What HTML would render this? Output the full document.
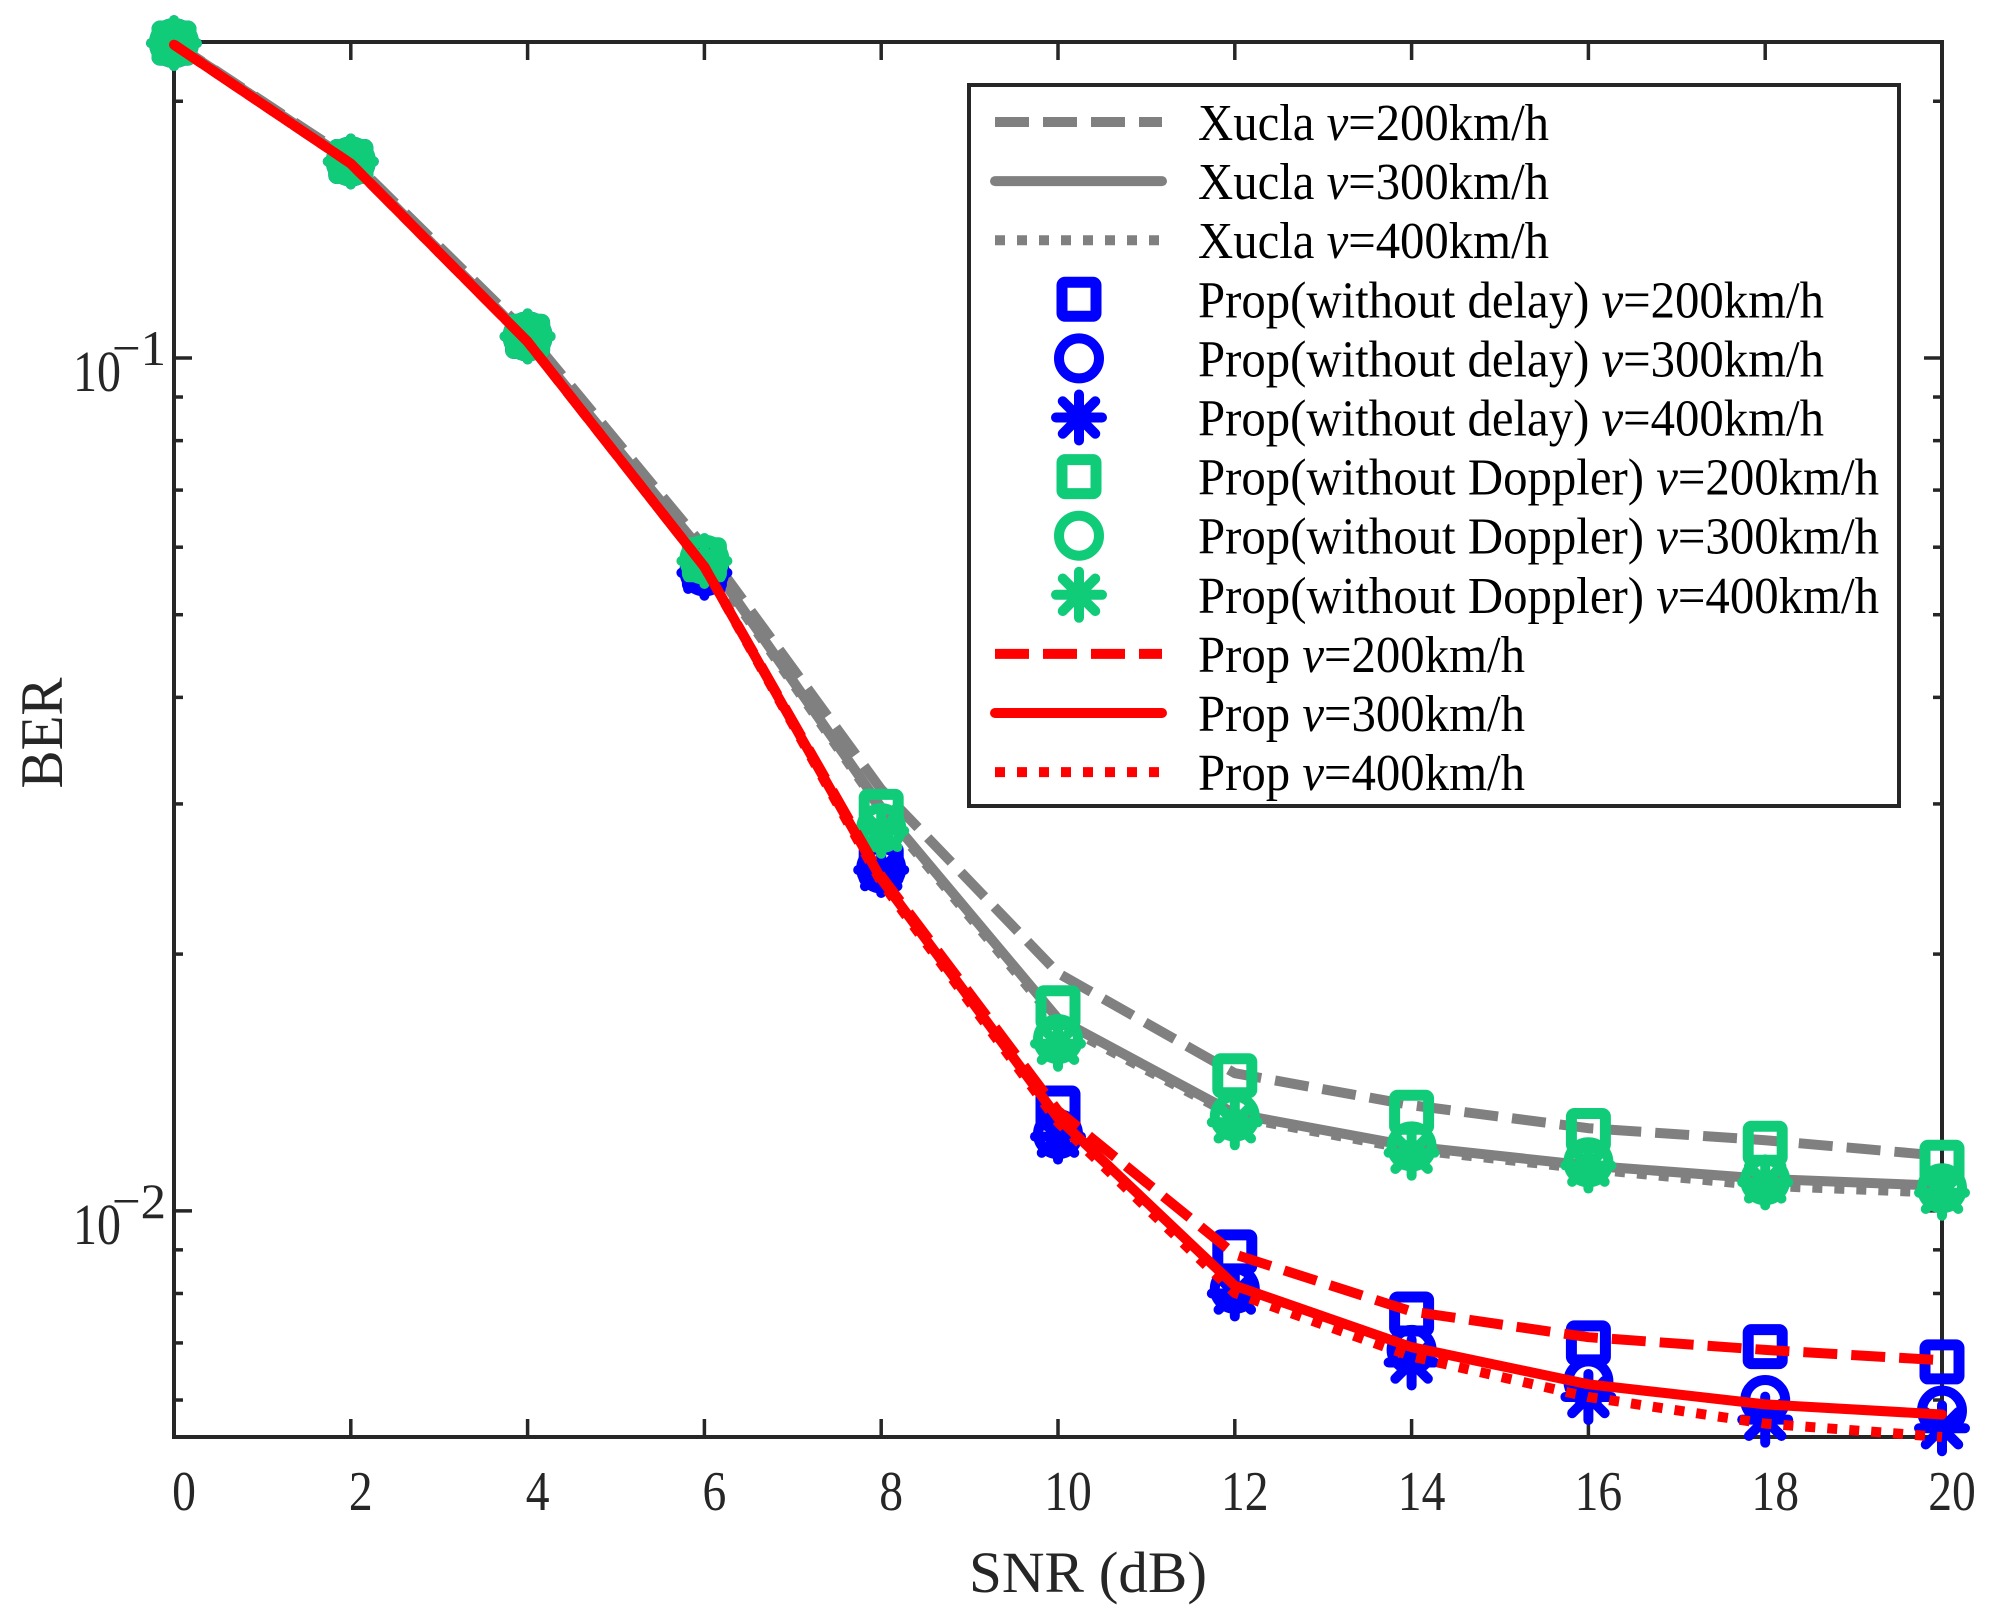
<!DOCTYPE html>
<html><head><meta charset="utf-8"><style>
html,body{margin:0;padding:0;background:#fff;}
svg{display:block;font-family:"Liberation Serif",serif;}
</style></head><body>
<svg id="chart" width="1996" height="1610" viewBox="0 0 1996 1610">
<g id="grid-layer"></g>
<g id="series-layer"></g>
<g id="legend-layer"></g>
</svg>
<script>
const snr = [0,2,4,6,8,10,12,14,16,18,20];
const xTicks = [0,2,4,6,8,10,12,14,16,18,20];
const xucla200 = [0.234,0.171,0.1068,0.060,0.0312,0.019,0.0145,0.0133,0.0125,0.0121,0.0116];
const xucla300 = [0.234,0.170,0.105,0.0589,0.0297,0.0168,0.0130,0.0119,0.0113,0.0109,0.0107];
const xucla400 = [0.234,0.170,0.105,0.0585,0.0295,0.0166,0.0129,0.0118,0.0112,0.0107,0.0105];
const prop200 = [0.233,0.169,0.1045,0.0569,0.0247,0.0131,0.00889,0.00762,0.00711,0.00687,0.00668];
const prop300 = [0.233,0.169,0.1045,0.0569,0.0245,0.01285,0.00817,0.00692,0.00626,0.00593,0.00577];
const prop400 = [0.233,0.169,0.1045,0.0569,0.0243,0.0127,0.00801,0.00675,0.00605,0.00563,0.00543];
const noDelay200 = [0.234,0.170,0.106,0.0564,0.0255,0.0132,0.00895,0.00757,0.0070,0.00693,0.00665];
const noDelay300 = [0.234,0.170,0.106,0.0562,0.0252,0.0123,0.0081,0.00687,0.00631,0.0060,0.00583];
const noDelay400 = [0.234,0.170,0.106,0.0560,0.0251,0.01222,0.0080,0.00664,0.00605,0.00569,0.00556];
const noDop200 = [0.234,0.170,0.106,0.058,0.0294,0.0173,0.0144,0.01305,0.01242,0.0120,0.0114];
const noDop300 = [0.234,0.170,0.106,0.058,0.0281,0.0159,0.0129,0.0119,0.0114,0.01086,0.01063];
const noDop400 = [0.234,0.170,0.106,0.0578,0.0279,0.0157,0.0127,0.0117,0.0113,0.0108,0.0105];
const legendLabels = ["Xucla v=200km/h","Xucla v=300km/h","Xucla v=400km/h",
 "Prop(without delay) v=200km/h","Prop(without delay) v=300km/h","Prop(without delay) v=400km/h",
 "Prop(without Doppler) v=200km/h","Prop(without Doppler) v=300km/h","Prop(without Doppler) v=400km/h",
 "Prop v=200km/h","Prop v=300km/h","Prop v=400km/h"];

const NS="http://www.w3.org/2000/svg";
const L=174,R=1942,T=42,B=1437;
const X0=0,X1=20, LY0=Math.log10(0.00543), LY1=Math.log10(0.2347);
function xs(v){return L+(v-X0)/(X1-X0)*(R-L);}
function ys(v){return B-(Math.log10(v)-LY0)/(LY1-LY0)*(B-T);}
function mk(tag,attrs,parent){const e=document.createElementNS(NS,tag);for(const k in attrs)e.setAttribute(k,attrs[k]);parent.appendChild(e);return e;}
const axisG=document.getElementById('grid-layer');
const serG=document.getElementById('series-layer');
const legG=document.getElementById('legend-layer');
const AX='#262626';

const fr=mk('rect',{x:L,y:T,width:R-L,height:B-T,fill:'none',stroke:AX,'stroke-width':4},axisG);


xTicks.forEach(t=>{
  const x=xs(t);
  const a=mk('line',{x1:x,y1:B,x2:x,y2:B-18,stroke:AX,'stroke-width':3.5},axisG);
  
  
  const b=mk('line',{x1:x,y1:T,x2:x,y2:T+18,stroke:AX,'stroke-width':3.5},axisG);
  
  
  const tx=mk('text',{x:x+10,y:1510,'font-size':56,'text-anchor':'middle',fill:AX,transform:'translate('+(x+10)+',0) scale(0.85,1) translate('+(-(x+10))+',0)'},axisG);
  tx.textContent=String(t);
  
  
});
for(let d=-3;d<=-1;d++){
  for(let m=1;m<=9;m++){
    const v=m*Math.pow(10,d);
    if(v<0.00543||v>0.2347)continue;
    const y=ys(v), len=(m===1)?18:9;
    const a=mk('line',{x1:L,y1:y,x2:L+len,y2:y,stroke:AX,'stroke-width':3.5},axisG);
    
    
    const b=mk('line',{x1:R,y1:y,x2:R-len,y2:y,stroke:AX,'stroke-width':3.5},axisG);
    
    
    if(m===1){
      const tx=mk('text',{x:73,y:y+33,'font-size':58,fill:AX,textLength:48,lengthAdjust:'spacingAndGlyphs'},axisG);
      tx.textContent='10';
      
      
      const sp=mk('text',{x:112,y:y+7,'font-size':50,fill:AX,textLength:54,lengthAdjust:'spacingAndGlyphs'},axisG);
      sp.textContent='\u2212'+(-d);
      
      
    }
  }
}
const xt=mk('text',{x:1088,y:1592,'font-size':58,'text-anchor':'middle',fill:AX,textLength:238,lengthAdjust:'spacingAndGlyphs'},axisG);
xt.textContent='SNR (dB)';


const yt=mk('text',{x:0,y:0,'font-size':60,'text-anchor':'middle',fill:AX,transform:'translate(62,733) rotate(-90)',textLength:111,lengthAdjust:'spacingAndGlyphs'},axisG);
yt.textContent='BER';



const GRAY='#808080',RED='#ff0000',BLUE='#0000ff',GREEN='#10cc78';
const DASH='34 14',DOT='10 12';
function drawLine(vals,color,dash,name){
  const pts=snr.map((s,i)=>xs(s).toFixed(1)+','+ys(vals[i]).toFixed(1)).join(' ');
  const p=mk('polyline',{points:pts,fill:'none',stroke:color,'stroke-width':10,'stroke-dasharray':dash||'none','stroke-linejoin':'round','stroke-linecap':dash?'butt':'round'},serG);
  
  
}
function marker(parent,type,cx,cy,color){
  let e;
  if(type==='sq'){e=mk('rect',{x:cx-17,y:cy-17,width:34,height:34,rx:3,fill:'none',stroke:color,'stroke-width':11},parent);}
  else if(type==='ci'){e=mk('circle',{cx:cx,cy:cy,r:20,fill:'none',stroke:color,'stroke-width':10},parent);}
  else{
    e=mk('g',{},parent);
    for(let k=0;k<4;k++){const a=k*Math.PI/4,dx=23*Math.cos(a),dy=23*Math.sin(a);
      mk('line',{x1:cx-dx,y1:cy-dy,x2:cx+dx,y2:cy+dy,stroke:color,'stroke-width':10,'stroke-linecap':'round'},e);}
  }
  return e;
}
function drawMarkers(vals,type,color,name){
  snr.forEach((s,i)=>{
    const e=marker(serG,type,xs(s),ys(vals[i]),color);
    
    
  });
}
drawLine(xucla200,GRAY,DASH,'xucla-200-line');
drawLine(xucla300,GRAY,null,'xucla-300-line');
drawLine(xucla400,GRAY,DOT,'xucla-400-line');
drawMarkers(noDelay200,'sq',BLUE,'no-delay-200-marker');
drawMarkers(noDelay300,'ci',BLUE,'no-delay-300-marker');
drawMarkers(noDelay400,'st',BLUE,'no-delay-400-marker');
drawMarkers(noDop200,'sq',GREEN,'no-doppler-200-marker');
drawMarkers(noDop300,'ci',GREEN,'no-doppler-300-marker');
drawMarkers(noDop400,'st',GREEN,'no-doppler-400-marker');
drawLine(prop200,RED,DASH,'prop-200-line');
drawLine(prop300,RED,null,'prop-300-line');
drawLine(prop400,RED,DOT,'prop-400-line');

const lb=mk('rect',{x:969,y:85,width:930,height:721,fill:'#fff',stroke:AX,'stroke-width':4},legG);


const legStyles=[['l',GRAY,DASH],['l',GRAY,null],['l',GRAY,DOT],['sq',BLUE],['ci',BLUE],['st',BLUE],['sq',GREEN],['ci',GREEN],['st',GREEN],['l',RED,DASH],['l',RED,null],['l',RED,DOT]];
const widths=[351,351,351,626,626,626,681,681,681,327,327,327];
legendLabels.forEach((lab,i)=>{
  const y=122+i*59.1;
  const st=legStyles[i];
  let sym;
  if(st[0]==='l'){
    sym=mk('line',{x1:995,y1:y,x2:1162,y2:y,stroke:st[1],'stroke-width':10,'stroke-dasharray':st[2]||'none','stroke-linecap':st[2]?'butt':'round'},legG);
  } else sym=marker(legG,st[0],1079,y,st[1]);
  
  
  const t=mk('text',{x:1198,y:y+18,'font-size':52,fill:'#000',textLength:widths[i],lengthAdjust:'spacingAndGlyphs'},legG);
  const parts=lab.split('v=');
  t.appendChild(document.createTextNode(parts[0]));
  const it=mk('tspan',{'font-style':'italic'},t); it.textContent='v';
  t.appendChild(document.createTextNode('='+parts[1]));
  
  
});
</script>
</body></html>
